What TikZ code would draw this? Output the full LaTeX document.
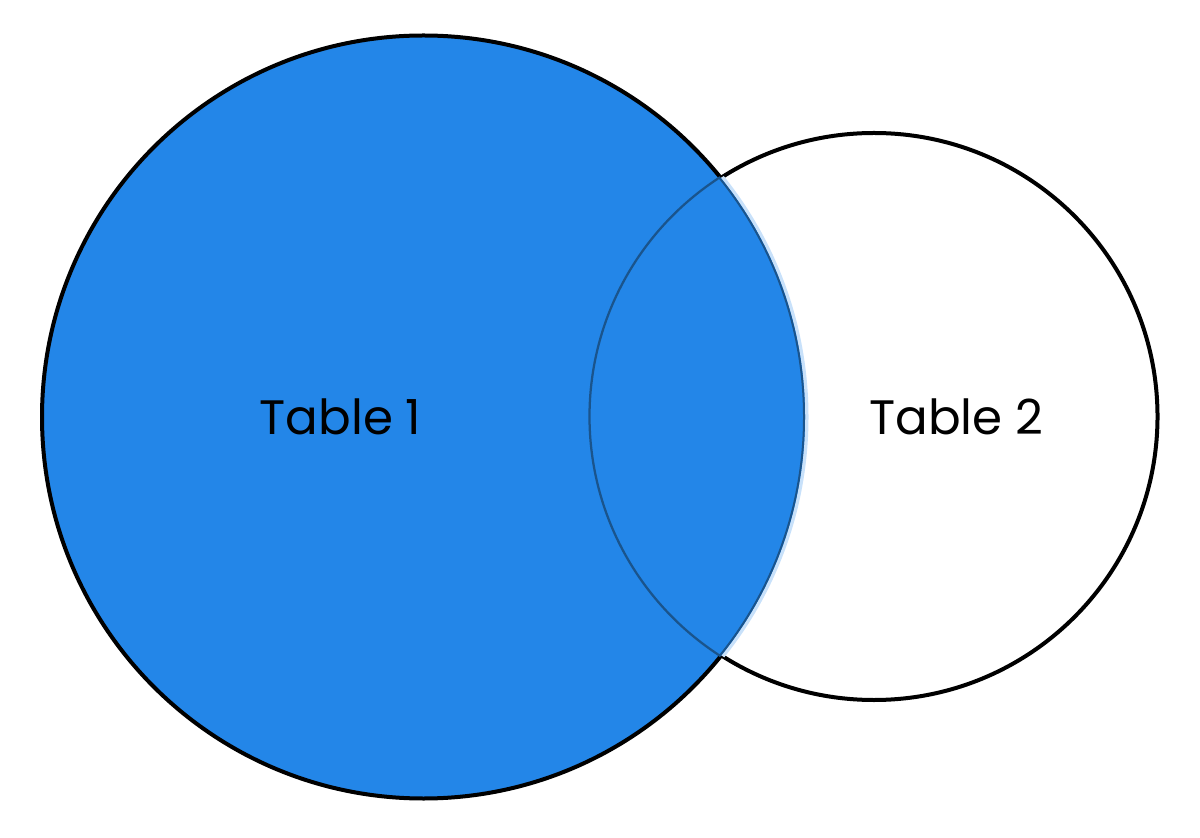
\documentclass[tikz,border=0pt]{standalone}
\usepackage{fontspec}
\setmainfont{Poppins}
\usepackage{tikz}
\usetikzlibrary{positioning}
\definecolor{tblue}{RGB}{35,134,232}
\definecolor{tedge}{RGB}{26,84,140}
\definecolor{tglow}{RGB}{200,225,250}

\begin{document}
\begin{tikzpicture}[node distance={9cm}, line width=0.08cm, main/.style = {draw, circle, inner sep=0pt, outer sep=0pt}, lab/.style = {font=\fontsize{27.5}{32}\selectfont}]
    \useasboundingbox (0,0) rectangle (24,16.74);
    \node[main, minimum size=11.34cm] (t2) at (17.48,8.41) {};
    \node[main, minimum size=15.26cm, fill=tblue] (t1) at (8.47,8.40) {};

    \begin{scope}
      \clip (t2.center) circle (5.67cm);
      \draw[tglow, line width=0.14cm] (t1.center) circle (7.63cm);
      \fill[tblue] (t1.center) circle (7.63cm);
      \draw[tedge, line width=0.04cm] (t1.center) circle (7.61cm);
    \end{scope}
    \begin{scope}
      \clip (t1.center) circle (7.63cm);
      \draw[tedge, line width=0.045cm] (t2.center) circle (5.69cm);
    \end{scope}

    \node[lab] (lab1) [xshift=-1.66cm] at (t1.center) {Table 1};
    \node[lab] (lab2) [xshift=1.65cm] at (t2.center) {Table 2};
\end{tikzpicture}
\end{document}
